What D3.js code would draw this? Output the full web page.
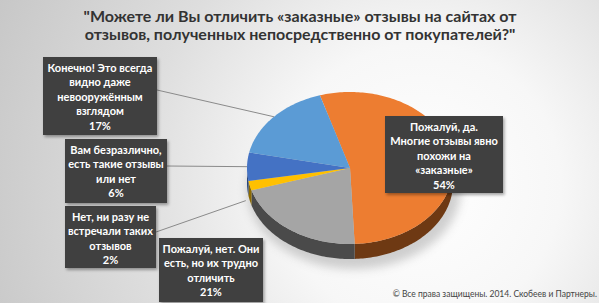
<!DOCTYPE html>
<html>
<head>
<meta charset="utf-8">
<script src="https://cdn.jsdelivr.net/npm/d3@7"></script>
<style>
  html, body { margin: 0; padding: 0; overflow: hidden; }
  svg { display: block; font-family: Lato, "Open Sans", sans-serif; }
</style>
</head>
<body>
<svg id="chart" width="599" height="303"></svg>
<script>
// data
var titleLines = ["\"Можете ли Вы отличить «заказные» отзывы на сайтах от",
                  "отзывов, полученных непосредственно от покупателей?\""];
var values = [54, 21, 2, 6, 17];
var labelLines = [
  ["Пожалуй, да.", "Многие отзывы явно", "похожи на", "«заказные»", "54%"],
  ["Пожалуй, нет. Они", "есть, но их трудно", "отличить", "21%"],
  ["Нет, ни разу не", "встречали таких", "отзывов", "2%"],
  ["Вам безразлично,", "есть такие отзывы", "или нет", "6%"],
  ["Конечно! Это всегда", "видно даже", "невооружённым", "взглядом", "17%"]
];
var footer = "© Все права защищены. 2014. Скобеев и Партнеры.";

var topColors  = ["#ED7D31", "#A5A5A5", "#FFC000", "#4472C4", "#5B9BD5"];
var sideColors = ["#6e3913", "#4a4a4a", "#8c6a00", "#27457c", "#34618c"];

// label box layout: x, y, w, h, and where the leader line leaves the box (or null)
var boxes = [
  {x: 385, y: 116, w: 118, h: 77, lead: null},
  {x: 159, y: 238, w: 104, h: 64, lead: null},
  {x: 65,  y: 206, w: 91,  h: 62, lead: 26},
  {x: 65,  y: 139, w: 102, h: 64, lead: 27},
  {x: 43,  y: 57,  w: 114, h: 78, lead: 33}
];

var svg = d3.select("#chart");
var width = +svg.attr("width"), height = +svg.attr("height");

var defs = svg.append("defs");
var grad = defs.append("radialGradient")
    .attr("id", "bg")
    .attr("gradientUnits", "userSpaceOnUse")
    .attr("cx", 420).attr("cy", 185).attr("r", 470);
grad.append("stop").attr("offset", "0").attr("stop-color", "#ffffff");
grad.append("stop").attr("offset", "0.3").attr("stop-color", "#f7f7f7");
grad.append("stop").attr("offset", "0.6").attr("stop-color", "#dedede");
grad.append("stop").attr("offset", "1").attr("stop-color", "#c6c6c6");

var shadow = defs.append("filter").attr("id", "shadow")
    .attr("x", "-10%").attr("y", "-10%").attr("width", "130%").attr("height", "130%");
shadow.append("feDropShadow").attr("dx", 1.5).attr("dy", 2).attr("stdDeviation", 1.5)
    .attr("flood-color", "#000").attr("flood-opacity", 0.35);

var blur = defs.append("filter").attr("id", "blur")
    .attr("x", "-30%").attr("y", "-30%").attr("width", "160%").attr("height", "160%");
blur.append("feGaussianBlur").attr("stdDeviation", 5);

svg.append("rect").attr("width", width).attr("height", height).attr("fill", "url(#bg)");

// title
svg.append("g").selectAll("text")
  .data(titleLines)
  .enter().append("text")
    .attr("x", 300)
    .attr("y", function(d, i) { return 22 + i * 18; })
    .attr("text-anchor", "middle")
    .attr("font-size", 16)
    .attr("font-weight", "bold")
    .attr("fill", "#333")
    .text(function(d) { return d; });

// 3D pie
var cx = 350, cy = 168, rx = 103, ry = 76, depth = 15;
var start = -17 * Math.PI / 180;

var pie = d3.pie().sort(null).startAngle(start).endAngle(start + 2 * Math.PI);
var arcs = pie(values);

function pt(a, dy) {
  return [cx + rx * Math.sin(a), cy - ry * Math.cos(a) + (dy || 0)];
}
function arcPts(a0, a1, dy) {
  var n = Math.max(2, Math.ceil((a1 - a0) / 0.02)), out = [];
  for (var i = 0; i <= n; i++) out.push(pt(a0 + (a1 - a0) * i / n, dy));
  return out;
}
var line = d3.line();

// soft shadow under the pie
svg.append("ellipse")
    .attr("cx", cx + 4).attr("cy", cy + depth + 6)
    .attr("rx", rx + 4).attr("ry", ry + 4)
    .attr("fill", "#999").attr("opacity", 0.45)
    .attr("filter", "url(#blur)");

// sides (front half only)
var sides = svg.append("g");
arcs.forEach(function(d, i) {
  var a0 = Math.max(d.startAngle, Math.PI / 2),
      a1 = Math.min(d.endAngle, 3 * Math.PI / 2);
  if (a1 <= a0) return;
  var topEdge = arcPts(a0, a1, 0),
      bottomEdge = arcPts(a0, a1, depth).reverse();
  sides.append("path")
      .attr("d", line(topEdge.concat(bottomEdge)) + "Z")
      .attr("fill", sideColors[i]);
});

// top faces
svg.append("g").selectAll("path")
  .data(arcs)
  .enter().append("path")
    .attr("d", function(d) {
      return line([[cx, cy]].concat(arcPts(d.startAngle, d.endAngle, 0))) + "Z";
    })
    .attr("fill", function(d, i) { return topColors[i]; });

// leader lines
svg.append("g").selectAll("line")
  .data(arcs.filter(function(d, i) { return boxes[i].lead !== null; }))
  .enter().append("line")
    .each(function(d) {
      var b = boxes[d.index];
      var mid = (d.startAngle + d.endAngle) / 2;
      var p = pt(mid, d.index === 2 ? depth : 0);
      d3.select(this)
        .attr("x1", b.x + b.w).attr("y1", b.y + b.lead)
        .attr("x2", p[0] - (d.index === 2 ? 4 : 0)).attr("y2", p[1]);
    })
    .attr("stroke", "#8a8a8a")
    .attr("stroke-width", 1);

// label boxes
var lab = svg.append("g").selectAll("g")
  .data(labelLines)
  .enter().append("g")
    .attr("transform", function(d, i) { return "translate(" + boxes[i].x + "," + boxes[i].y + ")"; });

lab.append("rect")
    .attr("width", function(d, i) { return boxes[i].w; })
    .attr("height", function(d, i) { return boxes[i].h; })
    .attr("fill", "#3f3f3f")
    .attr("filter", "url(#shadow)");

lab.each(function(lines, i) {
  d3.select(this).selectAll("text")
    .data(lines)
    .enter().append("text")
      .attr("x", boxes[i].w / 2)
      .attr("y", function(d, j) { return 14.5 + j * 14.5; })
      .attr("text-anchor", "middle")
      .attr("font-size", 11)
      .attr("font-weight", "bold")
      .attr("fill", "#fff")
      .text(function(d) { return d; });
});

// footer
svg.append("text")
    .attr("x", 597)
    .attr("y", 297)
    .attr("text-anchor", "end")
    .attr("font-size", 8.5)
    .attr("fill", "#444")
    .text(footer);
</script>
</body>
</html>
